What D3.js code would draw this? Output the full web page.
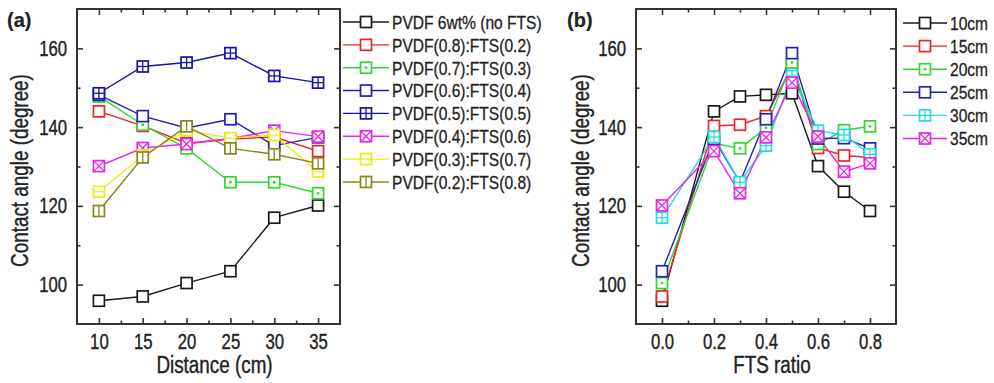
<!DOCTYPE html>
<html><head><meta charset="utf-8">
<script src="https://cdn.jsdelivr.net/npm/d3@7"></script>
<style>
body{margin:0;background:#fff}
svg text{font-family:"Liberation Sans",Arial,sans-serif;fill:#222;stroke:#222;stroke-width:0.4px}
</style></head><body>
<svg id="c" width="994" height="383"></svg>
<script>
// ---------- data ----------
const distances = [10, 15, 20, 25, 30, 35];
const ftsRatios = [0.0, 0.2, 0.3, 0.4, 0.5, 0.6, 0.7, 0.8];

// panel (a): contact angle vs distance, one array per composition
const pvdfNoFTS = [95.9, 97.0, 100.4, 103.4, 117.0, 120.1];
const pvdf08    = [144.0, 140.3, 135.9, 137.0, 137.5, 133.9];
const pvdf07    = [147.8, 140.6, 134.6, 126.0, 126.0, 123.2];
const pvdf06    = [148.2, 142.8, 139.8, 142.0, 135.3, 137.4];
const pvdf05    = [148.6, 155.4, 156.4, 158.8, 153.0, 151.3];
const pvdf04    = [130.1, 134.7, 135.7, 137.1, 139.1, 137.6];
const pvdf03    = [123.6, 132.8, 139.2, 137.2, 138.0, 128.7];
const pvdf02    = [118.7, 132.3, 140.2, 134.6, 133.1, 130.8];
const labelsA = ["PVDF 6wt% (no FTS)", "PVDF(0.8):FTS(0.2)", "PVDF(0.7):FTS(0.3)", "PVDF(0.6):FTS(0.4)",
                 "PVDF(0.5):FTS(0.5)", "PVDF(0.4):FTS(0.6)", "PVDF(0.3):FTS(0.7)", "PVDF(0.2):FTS(0.8)"];

// panel (b): contact angle vs FTS ratio, one array per distance
const cm10 = [95.9, 144.0, 147.8, 148.2, 148.6, 130.1, 123.6, 118.7];
const cm15 = [97.0, 140.3, 140.6, 142.8, 155.4, 134.7, 132.8, 132.3];
const cm20 = [100.4, 135.9, 134.6, 139.8, 156.4, 135.7, 139.2, 140.2];
const cm25 = [103.4, 137.0, 126.0, 142.0, 158.8, 137.1, 137.2, 134.6];
const cm30 = [117.0, 137.5, 126.0, 135.3, 153.0, 139.1, 138.0, 133.1];
const cm35 = [120.1, 133.9, 123.2, 137.4, 151.3, 137.6, 128.7, 130.8];
const labelsB = ["10cm", "15cm", "20cm", "25cm", "30cm", "35cm"];

const yTicks = [100, 120, 140, 160];
const yMinor = [110, 130, 150];
const xTicksA = [10, 15, 20, 25, 30, 35];
const xMinorA = [12.5, 17.5, 22.5, 27.5, 32.5];
const xTicksB = [0.0, 0.2, 0.4, 0.6, 0.8];
const xMinorB = [0.1, 0.3, 0.5, 0.7];

// ---------- styles ----------
const stylesA = [
  {c:"#1a1a1a", m:"none"}, {c:"#ee2424", m:"none"}, {c:"#2ed82e", m:"dot"}, {c:"#2222b4", m:"none"},
  {c:"#1414a8", m:"plus"}, {c:"#ea24ea", m:"x"}, {c:"#ecec10", m:"h"}, {c:"#86861a", m:"v"}
];
const stylesB = [
  {c:"#1a1a1a", m:"none"}, {c:"#ee2424", m:"none"}, {c:"#2ed82e", m:"dot"},
  {c:"#2222b4", m:"none"}, {c:"#22dede", m:"plus"}, {c:"#ea24ea", m:"x"}
];

const svg = d3.select("#c");
const TICK_FS = 22, TICK_SX = 0.76;
const TITLE_FS = 23, TITLE_SX = 0.82;
const LEG_FS = 19, LEG_SX = 0.82;

function narrow(sel, sx) {
  sel.each(function () {
    const t = d3.select(this);
    const x = +(t.attr("x") || 0);
    t.attr("x", x / sx).attr("transform", `scale(${sx},1)`);
  });
}

function marker(g, x, y, st) {
  const s = 11, h = s / 2;
  const m = g.append("g").attr("transform", `translate(${x},${y})`);
  m.append("rect").attr("x", -h).attr("y", -h).attr("width", s).attr("height", s)
    .attr("fill", "#fff").attr("stroke", st.c).attr("stroke-width", 1.7);
  const ln = (x1, y1, x2, y2) => m.append("line").attr("x1", x1).attr("y1", y1).attr("x2", x2).attr("y2", y2)
    .attr("stroke", st.c).attr("stroke-width", 1.3);
  if (st.m === "dot") m.append("circle").attr("r", 1.4).attr("fill", st.c);
  if (st.m === "plus") { ln(-h, 0, h, 0); ln(0, -h, 0, h); }
  if (st.m === "x") { ln(-h, -h, h, h); ln(-h, h, h, -h); }
  if (st.m === "h") ln(-h, 0, h, 0);
  if (st.m === "v") ln(0, -h, 0, h);
}

function panel(o) {
  const {x0, x1, y0, y1, xDomain, xTicks, xMinor, xFmt, xs, series, styles, xTitle, tag, tagX, yTitleX} = o;
  const x = d3.scaleLinear().domain(xDomain).range([x0, x1]);
  const y = d3.scaleLinear().domain([90, 170]).range([y1, y0]);
  const g = svg.append("g");

  const addAx = (axis, tr, ticks, size, fmt, pad) => {
    const a = g.append("g").attr("transform", tr)
      .call(axis.tickValues(ticks).tickSize(size).tickSizeOuter(0).tickPadding(pad).tickFormat(fmt));
    a.select(".domain").remove();
    a.selectAll("line").attr("stroke", "#333").attr("stroke-width", 1.6);
    a.selectAll("text").attr("font-size", TICK_FS).attr("fill", "#222").attr("font-family", null);
    narrow(a.selectAll("text"), TICK_SX);
    return a;
  };
  addAx(d3.axisBottom(x), `translate(0,${y1})`, xTicks, -6, xFmt, 9);
  addAx(d3.axisBottom(x), `translate(0,${y1})`, xMinor, -3.5, () => "", 9);
  addAx(d3.axisTop(x), `translate(0,${y0})`, xTicks, -6, () => "", 0);
  addAx(d3.axisTop(x), `translate(0,${y0})`, xMinor, -3.5, () => "", 0);
  addAx(d3.axisLeft(y), `translate(${x0},0)`, yTicks, -6, d3.format("d"), 10);
  addAx(d3.axisLeft(y), `translate(${x0},0)`, yMinor, -3.5, () => "", 10);
  addAx(d3.axisRight(y), `translate(${x1},0)`, yTicks, -6, () => "", 0);
  addAx(d3.axisRight(y), `translate(${x1},0)`, yMinor, -3.5, () => "", 0);

  g.append("rect").attr("x", x0).attr("y", y0).attr("width", x1 - x0).attr("height", y1 - y0)
    .attr("fill", "none").attr("stroke", "#333").attr("stroke-width", 2);

  const line = d3.line().x((d, i) => x(xs[i])).y(d => y(d));
  series.forEach((s, k) => {
    g.append("path").attr("d", line(s)).attr("fill", "none")
      .attr("stroke", styles[k].c).attr("stroke-width", 1.4);
  });
  series.forEach((s, k) => {
    s.forEach((v, i) => marker(g, x(xs[i]), y(v), styles[k]));
  });

  g.append("text").attr("transform", `translate(${(x0 + x1) / 2 + 6},373) scale(${TITLE_SX},1)`)
    .attr("text-anchor", "middle").attr("font-size", TITLE_FS).text(xTitle);
  g.append("text").attr("transform", `translate(${yTitleX},${(y0 + y1) / 2 + 4}) rotate(-90) scale(${TITLE_SX},1)`)
    .attr("text-anchor", "middle").attr("font-size", TITLE_FS).text("Contact angle (degree)");
  g.append("text").attr("x", tagX).attr("y", 27)
    .attr("font-size", 20).attr("font-weight", "bold").style("stroke-width", "0.2px").text(tag);
}

panel({x0: 77, x1: 340, y0: 9, y1: 324, xDomain: [7.5, 37.5], xTicks: xTicksA, xMinor: xMinorA,
  xFmt: d3.format("d"), xs: distances,
  series: [pvdfNoFTS, pvdf08, pvdf07, pvdf06, pvdf05, pvdf04, pvdf03, pvdf02], styles: stylesA,
  xTitle: "Distance (cm)", tag: "(a)", tagX: 7, yTitleX: 28});

panel({x0: 636, x1: 896, y0: 9, y1: 324, xDomain: [-0.1, 0.9], xTicks: xTicksB, xMinor: xMinorB,
  xFmt: d3.format(".1f"), xs: ftsRatios,
  series: [cm10, cm15, cm20, cm25, cm30, cm35], styles: stylesB,
  xTitle: "FTS ratio", tag: "(b)", tagX: 567, yTitleX: 589});

function legend(labels, styles, lx0, lx1, tx, ry0, dy) {
  const g = svg.append("g");
  labels.forEach((t, i) => {
    const yy = ry0 + i * dy;
    g.append("line").attr("x1", lx0).attr("x2", lx1).attr("y1", yy).attr("y2", yy)
      .attr("stroke", styles[i].c).attr("stroke-width", 1.4);
    marker(g, (lx0 + lx1) / 2, yy, styles[i]);
    g.append("text").attr("transform", `translate(${tx},${yy}) scale(${LEG_SX},1)`)
      .attr("dy", "0.36em").attr("font-size", LEG_FS).style("stroke-width", "0.3px").text(t);
  });
}
legend(labelsA, stylesA, 343, 389, 392, 22, 22.85);
legend(labelsB, stylesB, 903, 947, 950, 23, 23.1);
</script>
</body></html>
